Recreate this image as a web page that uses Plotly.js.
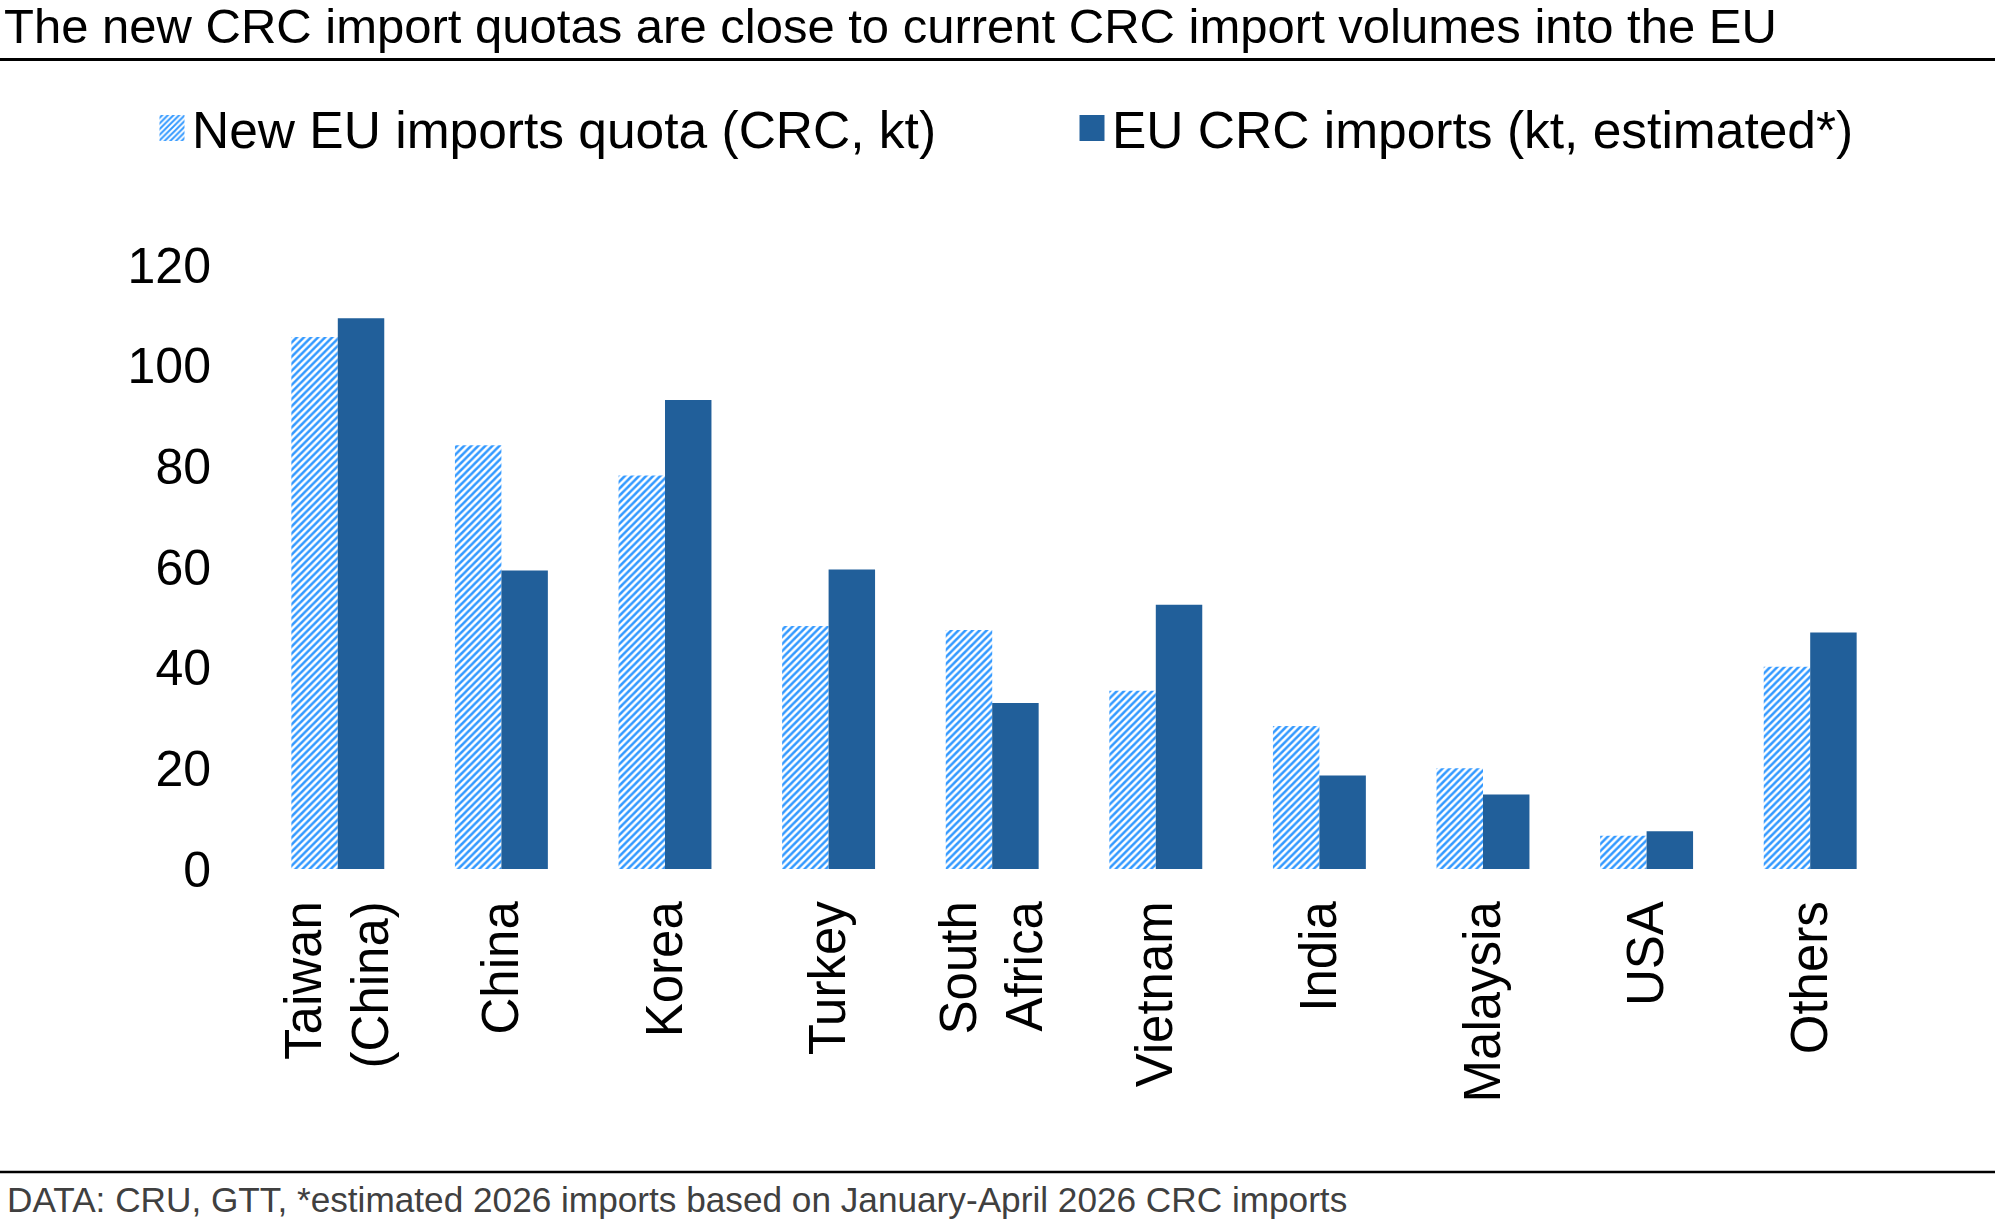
<!DOCTYPE html>
<html>
<head>
<meta charset="utf-8">
<script src="https://cdn.plot.ly/plotly-3.0.1.min.js"></script>
<style>
  html, body { margin: 0; padding: 0; background: #fff; }
  #chart { width: 1995px; height: 1220px; }
</style>
</head>
<body>
<div id="chart"></div>
<script>
// Origins of cold-rolled coil (CRC) imports into the EU
const countries = [
  'Taiwan<br>(China)', 'China', 'Korea', 'Turkey', 'South<br>Africa',
  'Vietnam', 'India', 'Malaysia', 'USA', 'Others'
];
// New EU import quota per origin, kt
const quotaKt = [105.7, 84.2, 78.2, 48.3, 47.5, 35.4, 28.4, 20.0, 6.6, 40.2];
// Estimated 2026 imports per origin, kt
const importsKt = [109.4, 59.3, 93.2, 59.5, 33.0, 52.5, 18.6, 14.8, 7.5, 47.0];
const yTicks = [0, 20, 40, 60, 80, 100, 120];

const FONT = 'Liberation Sans, Arial, Helvetica, sans-serif';
const QUOTA_BLUE = '#3399FF';
const IMPORT_BLUE = '#215F9A';

// Plot area in pixels (used to place paper-referenced decorations)
const W = 1995, H = 1220;
const M = { l: 256, r: 103, t: 265, b: 351 };
const pw = W - M.l - M.r, ph = H - M.t - M.b;
const px = x => (x - M.l) / pw;
const py = y => (H - M.b - y) / ph;

const traces = [
  {
    type: 'bar',
    name: 'New EU imports quota (CRC, kt)',
    x: countries,
    y: quotaKt,
    legend: 'legend',
    marker: {
      color: QUOTA_BLUE,
      line: { width: 0 },
      pattern: { shape: '/', fgcolor: QUOTA_BLUE, bgcolor: '#ffffff', size: 5, solidity: 0.5, fillmode: 'replace' }
    },
    hoverinfo: 'skip'
  },
  {
    type: 'bar',
    name: 'EU CRC imports (kt, estimated*)',
    x: countries,
    y: importsKt,
    legend: 'legend2',
    marker: { color: IMPORT_BLUE, line: { width: 0 } },
    hoverinfo: 'skip'
  }
];

function legendAt(xPix) {
  return {
    orientation: 'h',
    xref: 'container', yref: 'container',
    x: xPix / W, xanchor: 'left',
    y: 1 - 128 / H, yanchor: 'middle',
    font: { family: FONT, size: 51.5, color: '#000000' },
    bgcolor: 'rgba(0,0,0,0)',
    borderwidth: 0
  };
}

const layout = {
  width: W,
  height: H,
  margin: M,
  paper_bgcolor: '#ffffff',
  plot_bgcolor: '#ffffff',
  font: { family: FONT, color: '#000000' },
  barmode: 'group',
  bargap: 0.432,
  bargroupgap: 0,
  title: {
    text: 'The new CRC import quotas are close to current CRC import volumes into the EU',
    font: { family: FONT, size: 49, color: '#000000' },
    xref: 'container', yref: 'container',
    x: 4 / W, xanchor: 'left',
    y: 1 - 26 / H, yanchor: 'middle',
    pad: { t: 0, b: 0, l: 0, r: 0 }
  },
  showlegend: true,
  legend: legendAt(152),
  legend2: legendAt(1072),
  xaxis: {
    type: 'category',
    tickangle: -90,
    tickfont: { family: FONT, size: 51, color: '#000000' },
    showline: false,
    showgrid: false,
    zeroline: false,
    ticks: '',
    ticklabelstandoff: 21,
    fixedrange: true
  },
  yaxis: {
    range: [0, 120],
    tickvals: yTicks,
    ticktext: yTicks.map(String),
    tickfont: { family: FONT, size: 50, color: '#000000' },
    showline: false,
    showgrid: false,
    zeroline: false,
    ticks: '',
    ticklabelstandoff: 44,
    fixedrange: true
  },
  shapes: [
    // rule under the headline
    { type: 'line', xref: 'paper', yref: 'paper', x0: px(0), x1: px(W), y0: py(59.5), y1: py(59.5),
      line: { color: '#000000', width: 3 } },
    // rule above the source note
    { type: 'line', xref: 'paper', yref: 'paper', x0: px(0), x1: px(W), y0: py(1172), y1: py(1172),
      line: { color: '#000000', width: 2.5 } }
  ],
  annotations: [
    {
      text: 'DATA: CRU, GTT, *estimated 2026 imports based on January-April 2026 CRC imports',
      xref: 'paper', yref: 'paper',
      x: px(5), xanchor: 'left',
      y: py(1199), yanchor: 'middle',
      showarrow: false,
      font: { family: FONT, size: 35.2, color: '#404040' }
    }
  ]
};

Plotly.newPlot('chart', traces, layout, { staticPlot: true, displayModeBar: false }).then(gd => {
  // enlarge the legend swatches to match the large legend text
  gd.querySelectorAll('.legendpoints path').forEach(p => {
    p.setAttribute('d', 'M12.5,13H-12.5V-13H12.5Z');
  });
});
</script>
</body>
</html>
